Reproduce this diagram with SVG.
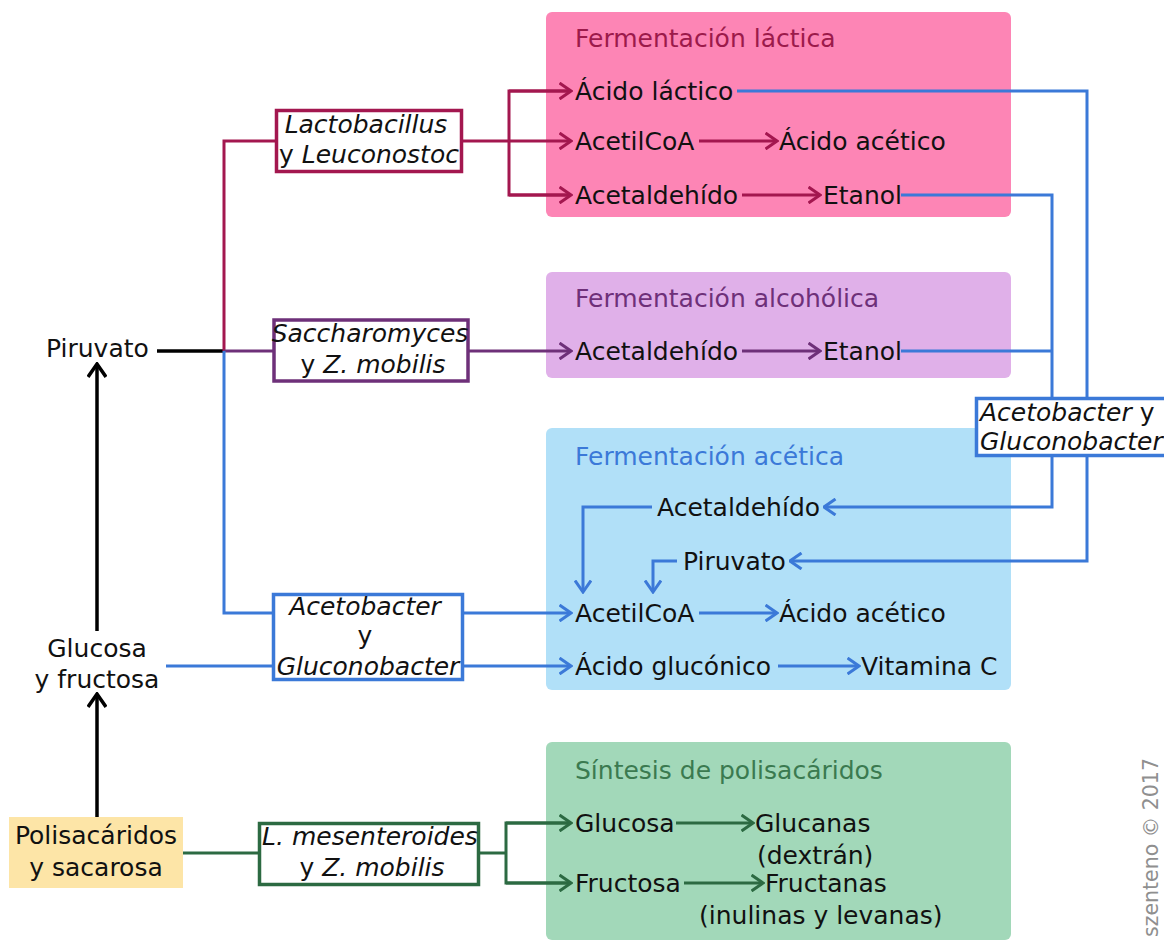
<svg xmlns="http://www.w3.org/2000/svg" width="1164" height="941" viewBox="0 0 1164 941">
<defs>
<style>
text{font-family:"DejaVu Sans","Liberation Sans",sans-serif;font-size:25px;fill:#111}
.it{font-style:italic}
.up{font-style:normal}
.mid{text-anchor:middle}
.ln{fill:none;stroke-width:3;stroke-linejoin:miter;stroke-linecap:butt}
.cr{stroke:#a3174f}.pu{stroke:#6e3079}.bl{stroke:#3b79d8}.gr{stroke:#2c6a42}.bk{stroke:#000;stroke-width:3.5}
.box{fill:#fff;stroke-width:3.5}
.panel{stroke:none}
</style>
<marker id="aCr" viewBox="0 0 14 18" refX="12.5" refY="9" markerWidth="14" markerHeight="18" markerUnits="userSpaceOnUse" orient="auto"><path d="M1,1 L12.5,9 L1,17" fill="none" stroke="#a3174f" stroke-width="3"/></marker>
<marker id="aPu" viewBox="0 0 14 18" refX="12.5" refY="9" markerWidth="14" markerHeight="18" markerUnits="userSpaceOnUse" orient="auto"><path d="M1,1 L12.5,9 L1,17" fill="none" stroke="#6e3079" stroke-width="3"/></marker>
<marker id="aBl" viewBox="0 0 14 18" refX="12.5" refY="9" markerWidth="14" markerHeight="18" markerUnits="userSpaceOnUse" orient="auto"><path d="M1,1 L12.5,9 L1,17" fill="none" stroke="#3b79d8" stroke-width="3"/></marker>
<marker id="aGr" viewBox="0 0 14 18" refX="12.5" refY="9" markerWidth="14" markerHeight="18" markerUnits="userSpaceOnUse" orient="auto"><path d="M1,1 L12.5,9 L1,17" fill="none" stroke="#2c6a42" stroke-width="3"/></marker>
<marker id="aBk" viewBox="0 0 16 20" refX="14" refY="10" markerWidth="16" markerHeight="20" markerUnits="userSpaceOnUse" orient="auto"><path d="M1,1 L14,10 L1,19" fill="none" stroke="#000" stroke-width="3.5"/></marker>
</defs>
<rect width="1164" height="941" fill="#fff"/>

<g id="panels">
<g id="panel-lactica"><rect class="panel" x="546" y="12" width="465" height="205" rx="6" fill="#fd85b5"/><text x="575" y="47" style="fill:#9c1a4b">Fermentación láctica</text></g>
<g id="panel-alcoholica"><rect class="panel" x="546" y="272" width="465" height="106" rx="6" fill="#e0b0e9"/><text x="575" y="307" style="fill:#6e3079">Fermentación alcohólica</text></g>
<g id="panel-acetica"><rect class="panel" x="546" y="428" width="465" height="262" rx="6" fill="#b1e0f8"/><text x="575" y="465" style="fill:#3b79d8">Fermentación acética</text></g>
<g id="panel-polisacaridos"><rect class="panel" x="546" y="742" width="465" height="198" rx="6" fill="#a2d8b9"/><text x="575" y="779" style="fill:#3b7a50">Síntesis de polisacáridos</text></g>
</g>

<g id="connectors">
<!-- black -->
<line class="ln bk" x1="157" y1="351" x2="224" y2="351"/>
<line class="ln bk" x1="97" y1="631" x2="97" y2="364" marker-end="url(#aBk)"/>
<line class="ln bk" x1="97" y1="817" x2="97" y2="694" marker-end="url(#aBk)"/>
<!-- crimson -->
<polyline class="ln cr" points="224,351 224,141 276,141"/>
<line class="ln cr" x1="462" y1="141" x2="571" y2="141" marker-end="url(#aCr)"/>
<polyline class="ln cr" points="571,91 509,91 509,195 571,195"/>
<line class="ln cr" x1="509" y1="91" x2="571" y2="91" marker-end="url(#aCr)"/>
<line class="ln cr" x1="509" y1="195" x2="571" y2="195" marker-end="url(#aCr)"/>
<line class="ln cr" x1="699" y1="141" x2="777" y2="141" marker-end="url(#aCr)"/>
<line class="ln cr" x1="742" y1="195" x2="820" y2="195" marker-end="url(#aCr)"/>
<!-- purple -->
<line class="ln pu" x1="224" y1="351" x2="273" y2="351"/>
<line class="ln pu" x1="469" y1="351" x2="571" y2="351" marker-end="url(#aPu)"/>
<line class="ln pu" x1="742" y1="351" x2="820" y2="351" marker-end="url(#aPu)"/>
<!-- blue -->
<polyline class="ln bl" points="224,351 224,613 274,613"/>
<line class="ln bl" x1="463" y1="613" x2="571" y2="613" marker-end="url(#aBl)"/>
<line class="ln bl" x1="166" y1="666" x2="274" y2="666"/>
<line class="ln bl" x1="463" y1="666" x2="571" y2="666" marker-end="url(#aBl)"/>
<line class="ln bl" x1="699" y1="613" x2="777" y2="613" marker-end="url(#aBl)"/>
<line class="ln bl" x1="778" y1="666" x2="859" y2="666" marker-end="url(#aBl)"/>
<polyline class="ln bl" points="737,91 1087,91 1087,561 790,561" marker-end="url(#aBl)"/>
<polyline class="ln bl" points="901,195 1052,195 1052,507 824,507" marker-end="url(#aBl)"/>
<line class="ln bl" x1="901" y1="351" x2="1052" y2="351"/>
<polyline class="ln bl" points="652,507 583,507 583,592" marker-end="url(#aBl)"/>
<polyline class="ln bl" points="677,561 653,561 653,592" marker-end="url(#aBl)"/>
<!-- green -->
<line class="ln gr" x1="183" y1="853" x2="259" y2="853"/>
<line class="ln gr" x1="479" y1="853" x2="506" y2="853"/>
<polyline class="ln gr" points="571,823 506,823 506,883 571,883"/>
<line class="ln gr" x1="506" y1="823" x2="571" y2="823" marker-end="url(#aGr)"/>
<line class="ln gr" x1="506" y1="883" x2="571" y2="883" marker-end="url(#aGr)"/>
<line class="ln gr" x1="676" y1="823" x2="753" y2="823" marker-end="url(#aGr)"/>
<line class="ln gr" x1="684" y1="883" x2="763" y2="883" marker-end="url(#aGr)"/>
</g>

<g id="n-piruvato"><text x="46" y="357">Piruvato</text></g>
<g id="n-glucosa"><text class="mid" x="97" y="657">Glucosa</text><text class="mid" x="97" y="688">y fructosa</text></g>
<g id="n-polisacaridos"><rect x="9" y="817" width="174" height="71" fill="#fde5a7"/><text class="mid" x="96" y="844">Polisacáridos</text><text class="mid" x="96" y="876">y sacarosa</text></g>

<g id="n-lactobacillus"><rect class="box" x="276.5" y="110.5" width="185" height="61" stroke="#a3174f"/><text class="mid it" x="366" y="133">Lactobacillus</text><text class="mid it" x="369" y="163"><tspan class="up">y</tspan> Leuconostoc</text></g>
<g id="n-saccharomyces"><rect class="box" x="274" y="320" width="194" height="61" stroke="#6e3079"/><text class="mid it" x="370" y="342">Saccharomyces</text><text class="mid it" x="373" y="373"><tspan class="up">y</tspan> Z. mobilis</text></g>
<g id="n-acetobacter-1"><rect class="box" x="273.5" y="594.5" width="189" height="85" stroke="#3b79d8"/><text class="mid it" x="365" y="615">Acetobacter</text><text class="mid" x="365" y="644">y</text><text class="mid it" x="368" y="675">Gluconobacter</text></g>
<g id="n-mesenteroides"><rect class="box" x="259.5" y="823.5" width="219" height="61" stroke="#2c6a42"/><text class="mid it" x="370" y="845">L. mesenteroides</text><text class="mid it" x="372" y="876"><tspan class="up">y</tspan> Z. mobilis</text></g>
<g id="n-acetobacter-2"><rect class="box" x="976.5" y="398.5" width="200" height="57" stroke="#3b79d8"/><text class="it" x="980" y="421">Acetobacter<tspan class="up"> y</tspan></text><text class="it" x="980" y="450">Gluconobacter</text></g>

<g id="n-lactica-items">
<text x="575" y="100">Ácido láctico</text>
<text x="575" y="150">AcetilCoA</text><text x="779" y="150">Ácido acético</text>
<text x="575" y="204">Acetaldehído</text><text x="823" y="204">Etanol</text>
</g>
<g id="n-alcoholica-items">
<text x="575" y="360">Acetaldehído</text><text x="823" y="360">Etanol</text>
</g>
<g id="n-acetica-items">
<text x="657" y="516">Acetaldehído</text>
<text x="683" y="570">Piruvato</text>
<text x="575" y="622">AcetilCoA</text><text x="779" y="622">Ácido acético</text>
<text x="575" y="675">Ácido glucónico</text><text x="861" y="675">Vitamina C</text>
</g>
<g id="n-polisacaridos-items">
<text x="575" y="832">Glucosa</text><text x="755" y="832">Glucanas</text>
<text x="757" y="864">(dextrán)</text>
<text x="575" y="892">Fructosa</text><text x="765" y="892">Fructanas</text>
<text x="699" y="924">(inulinas y levanas)</text>
</g>
<g id="watermark"><text transform="translate(1158,937) rotate(-90)" style="font-size:20.5px;fill:#8f8f8f">szenteno © 2017</text></g>
</svg>
